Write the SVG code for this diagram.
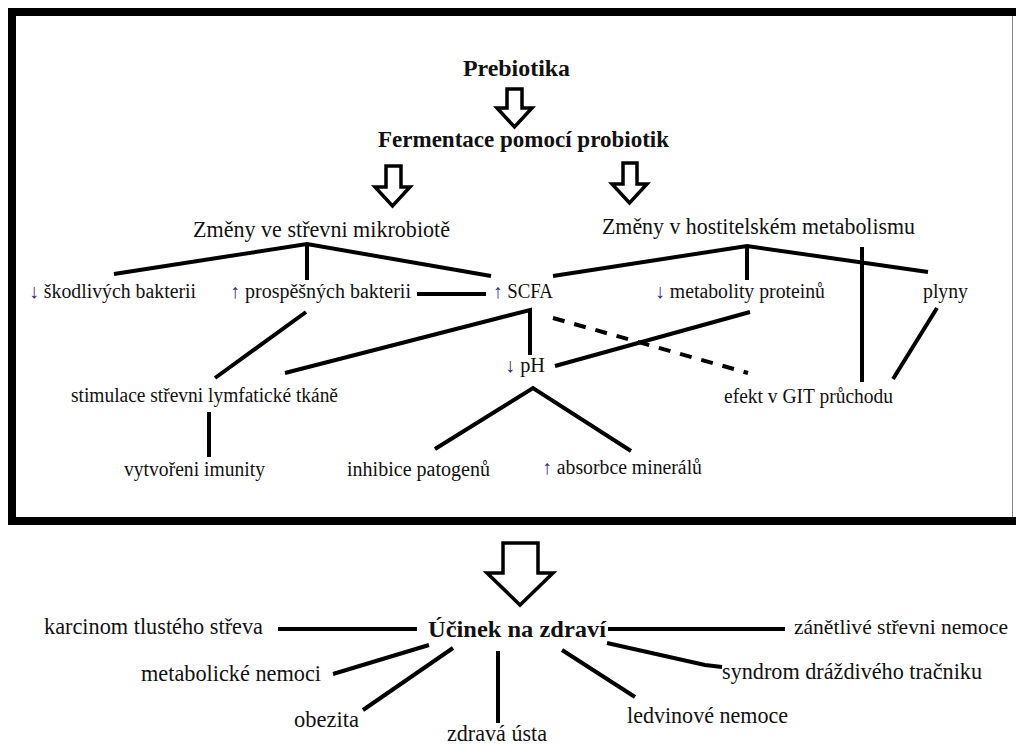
<svg xmlns="http://www.w3.org/2000/svg" width="1016" height="744" viewBox="0 0 1016 744" font-family="'Liberation Serif', 'Times New Roman', serif">
<style>
text{font-family:"Liberation Serif","Times New Roman",serif;fill:#111;}
.b{font-weight:bold;font-size:24px;}
.h{font-size:23px;}
.m{font-size:20px;}
.l{font-size:23px;}
.ar{fill:#3b2a78;}
.ln{stroke:#000;stroke-width:4;fill:none;}
.dash{stroke:#000;stroke-width:4;fill:none;stroke-dasharray:12 10;}
.big{fill:#fff;stroke:#000;stroke-width:3.5;stroke-linejoin:miter;}
</style>
<rect x="0" y="0" width="1016" height="744" fill="#fff"/>
<g id="frame">
<rect x="12" y="12" width="1012" height="509" fill="none" stroke="#000" stroke-width="8"/>
<line x1="1012.5" y1="16" x2="1012.5" y2="517" stroke="#888" stroke-width="1"/>
</g>
<g id="connectors">
<path class="big" d="M507,89 H522 V108 H532 L514.5,127 L497,108 H507 Z"/>
<path class="big" d="M386,166 H401 V187 H410 L392.5,206 L375,187 H386 Z"/>
<path class="big" d="M623,163 H637 V184 H647 L629.5,203 L612,184 H623 Z"/>
<path class="big" d="M503,543 H538 V573 H553 L520,605 L487,573 H503 Z"/>
<polyline class="ln" points="114,274 307,244 491,276"/>
<line class="ln" x1="307" y1="244" x2="307" y2="280"/>
<polyline class="ln" points="553,276 747,246 928,272"/>
<line class="ln" x1="747" y1="246" x2="747" y2="280"/>
<line class="ln" x1="862" y1="247" x2="862" y2="382"/>
<line class="ln" x1="417" y1="294" x2="486" y2="294"/>
<line class="ln" x1="306" y1="312" x2="215" y2="378"/>
<polyline class="ln" points="285,373 530,310 530,355"/>
<line class="dash" x1="553" y1="318" x2="748" y2="373"/>
<line class="ln" x1="555" y1="366" x2="750" y2="312"/>
<polyline class="ln" points="435,449 533,388 631,451"/>
<line class="ln" x1="209" y1="412" x2="209" y2="457"/>
<line class="ln" x1="937" y1="308" x2="893" y2="379"/>
<line class="ln" x1="278" y1="629" x2="417" y2="629"/>
<line class="ln" x1="608" y1="629" x2="785" y2="629"/>
<line class="ln" x1="333" y1="674" x2="429" y2="645"/>
<line class="ln" x1="363" y1="710" x2="453" y2="648"/>
<line class="ln" x1="498" y1="651" x2="498" y2="723"/>
<line class="ln" x1="562" y1="650" x2="635" y2="697"/>
<polyline class="ln" points="607,643 705,665 722,667"/>
</g>
<g id="n-prebiotika"><text class="b" x="463" y="76" textLength="107" lengthAdjust="spacingAndGlyphs">Prebiotika</text></g>
<g id="n-fermentace"><text class="b" x="378" y="147" textLength="291" lengthAdjust="spacingAndGlyphs">Fermentace pomocí probiotik</text></g>
<g id="n-mikrobiota"><text class="h" x="193" y="237" textLength="257" lengthAdjust="spacingAndGlyphs">Změny ve střevni mikrobiotě</text></g>
<g id="n-metabolismus"><text class="h" x="602" y="234" textLength="313" lengthAdjust="spacingAndGlyphs">Změny v hostitelském metabolismu</text></g>
<g id="n-skodlive"><text class="m" x="29" y="298" textLength="167" lengthAdjust="spacingAndGlyphs"><tspan class="ar">↓</tspan> škodlivých bakterii</text></g>
<g id="n-prospesne"><text class="m" x="230" y="298" textLength="181" lengthAdjust="spacingAndGlyphs"><tspan class="ar">↑</tspan> prospěšných bakterii</text></g>
<g id="n-scfa"><text class="m" x="493" y="298" textLength="60" lengthAdjust="spacingAndGlyphs"><tspan class="ar">↑</tspan> SCFA</text></g>
<g id="n-metabolity"><text class="m" x="655" y="298" textLength="170" lengthAdjust="spacingAndGlyphs"><tspan class="ar">↓</tspan> metabolity proteinů</text></g>
<g id="n-plyny"><text class="m" x="923" y="298" textLength="45" lengthAdjust="spacingAndGlyphs">plyny</text></g>
<g id="n-ph"><text class="m" x="505" y="372" textLength="40" lengthAdjust="spacingAndGlyphs"><tspan class="ar">↓</tspan> pH</text></g>
<g id="n-stimulace"><text class="m" x="71" y="402" textLength="267" lengthAdjust="spacingAndGlyphs">stimulace střevni lymfatické tkáně</text></g>
<g id="n-efekt"><text class="m" x="724" y="403" textLength="169" lengthAdjust="spacingAndGlyphs">efekt v GIT průchodu</text></g>
<g id="n-imunita"><text class="m" x="124" y="476" textLength="141" lengthAdjust="spacingAndGlyphs">vytvořeni imunity</text></g>
<g id="n-inhibice"><text class="m" x="347" y="476" textLength="143" lengthAdjust="spacingAndGlyphs">inhibice patogenů</text></g>
<g id="n-absorbce"><text class="m" x="542" y="474" textLength="160" lengthAdjust="spacingAndGlyphs"><tspan class="ar">↑</tspan> absorbce minerálů</text></g>
<g id="n-ucinek"><text class="b" x="428" y="637" textLength="178" lengthAdjust="spacingAndGlyphs">Účinek na zdraví</text></g>
<g id="n-karcinom"><text class="l" x="44" y="634" textLength="219" lengthAdjust="spacingAndGlyphs">karcinom tlustého střeva</text></g>
<g id="n-zanetlive"><text class="l" x="794" y="634" style="font-size:21px" textLength="214" lengthAdjust="spacingAndGlyphs">zánětlivé střevni nemoce</text></g>
<g id="n-metabolicke"><text class="l" x="141" y="681" textLength="180" lengthAdjust="spacingAndGlyphs">metabolické nemoci</text></g>
<g id="n-syndrom"><text class="l" x="722" y="679" textLength="260" lengthAdjust="spacingAndGlyphs">syndrom dráždivého tračniku</text></g>
<g id="n-obezita"><text class="l" x="294" y="727" textLength="65" lengthAdjust="spacingAndGlyphs">obezita</text></g>
<g id="n-ledvinove"><text class="l" x="627" y="723" textLength="161" lengthAdjust="spacingAndGlyphs">ledvinové nemoce</text></g>
<g id="n-usta"><text class="l" x="447" y="741" textLength="100" lengthAdjust="spacingAndGlyphs">zdravá ústa</text></g>
</svg>
